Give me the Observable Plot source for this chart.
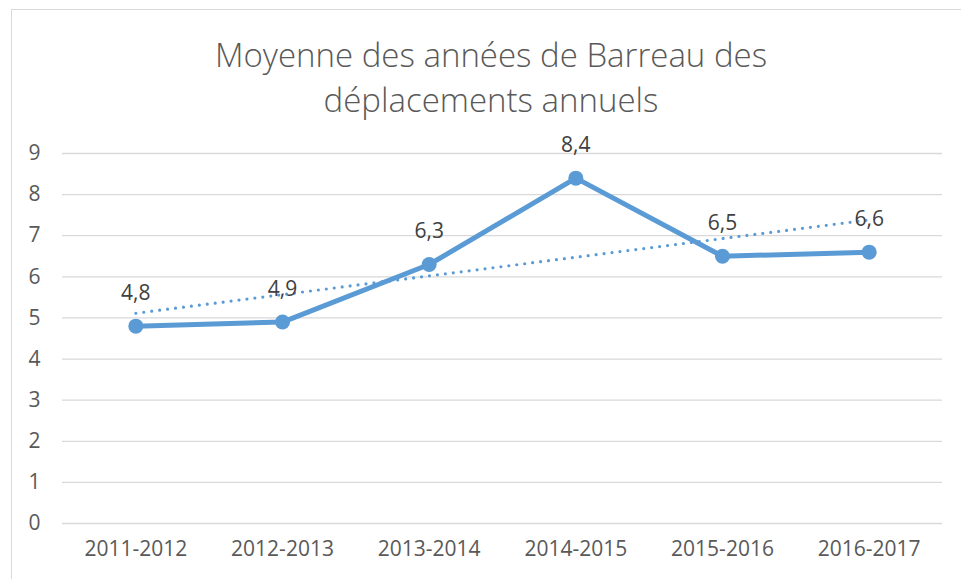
<!DOCTYPE html>
<html>
<head>
<meta charset="utf-8">
<script src="https://cdn.jsdelivr.net/npm/d3@7"></script>
<script src="https://cdn.jsdelivr.net/npm/@observablehq/plot@0.6"></script>
<style>
  html, body { margin: 0; padding: 0; background: white; }
  #wrap { position: relative; width: 961px; height: 579px; overflow: hidden; background: white; }
  #frame { position: absolute; left: 11px; top: 9px; right: -2px; bottom: -2px;
           border-left: 1.5px solid #d9d9d9; border-top: 1.5px solid #d9d9d9; }
  #title { position: absolute; left: 0; width: 982px; top: 32px; text-align: center;
           font-family: "Open Sans", sans-serif; font-weight: 300; font-size: 33px;
           line-height: 45px; color: #595959; z-index: 2; }
  #chart { position: absolute; left: 0; top: 0; z-index: 1; }
</style>
</head>
<body>
<div id="wrap">
  <div id="frame"></div>
  <div id="chart"></div>
  <div id="title">Moyenne des années de Barreau des<br>déplacements annuels</div>
</div>
<script>
const categories = ["2011-2012", "2012-2013", "2013-2014", "2014-2015", "2015-2016", "2016-2017"];
const values = [4.8, 4.9, 6.3, 8.4, 6.5, 6.6];
const yTicks = [0, 1, 2, 3, 4, 5, 6, 7, 8, 9];

const data = categories.map((c, i) => ({idx: i + 1, cat: c, v: values[i]}));
const xTicks = data.map(d => d.idx);
const blue = "#5B9BD5";

const chart = Plot.plot({
  width: 961,
  height: 579,
  marginLeft: 62,
  marginRight: 19,
  marginTop: 153,
  marginBottom: 56,
  style: {fontFamily: "Open Sans, sans-serif", fontSize: "21px", color: "#595959", background: "transparent", overflow: "visible"},
  x: {domain: [0.5, 6.5]},
  y: {domain: [0, 9]},
  marks: [
    Plot.gridY(yTicks, {stroke: "#d9d9d9", strokeOpacity: 1, strokeWidth: 1.3}),
    Plot.axisY(yTicks, {tickSize: 0, tickPadding: 22, label: null, fill: "#595959", fontSize: 21}),
    Plot.axisX(xTicks, {tickSize: 0, tickPadding: 18, label: null, fill: "#595959", fontSize: 21,
      tickFormat: i => categories[i - 1]}),
    Plot.linearRegressionY(data, {x: "idx", y: "v", ci: 0, stroke: blue, strokeWidth: 3.2,
      strokeDasharray: "0,8", strokeLinecap: "round"}),
    Plot.line(data, {x: "idx", y: "v", stroke: blue, strokeWidth: 5, strokeLinejoin: "round"}),
    Plot.dot(data, {x: "idx", y: "v", r: 7.5, fill: blue, stroke: "none"}),
    Plot.text(data, {x: "idx", y: "v", text: d => String(d.v).replace(".", ","), dy: -33,
      fill: "#404040", fontSize: 21})
  ]
});
document.getElementById("chart").appendChild(chart);
</script>
</body>
</html>
